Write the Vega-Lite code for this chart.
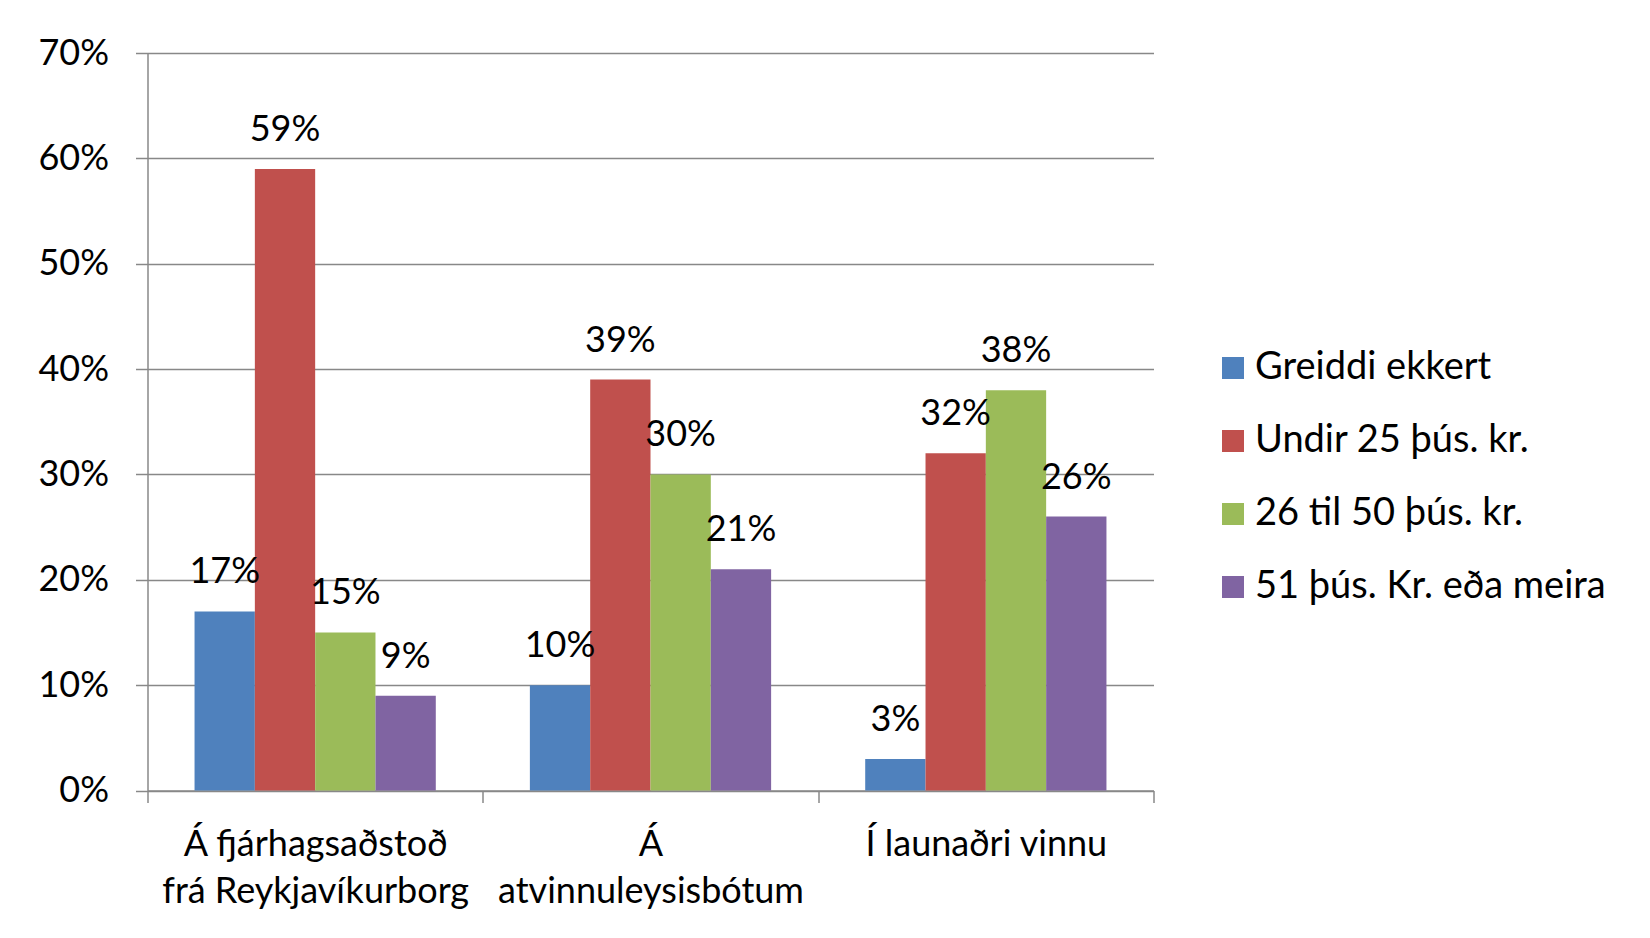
{
  "$schema": "https://vega.github.io/schema/vega-lite/v6.json",
  "autosize": "none",
  "width": 1006,
  "height": 737.5,
  "padding": {"left": 147.5, "top": 53, "right": 496.5, "bottom": 147.5},
  "background": "white",
  "config": {
    "font": "Lato",
    "view": {"stroke": null}
  },
  "data": {
    "values": [
      {"hopur": "Á fjárhagsaðstoð frá Reykjavíkurborg", "flokkur": "Greiddi ekkert", "hlutfall": 0.17},
      {"hopur": "Á fjárhagsaðstoð frá Reykjavíkurborg", "flokkur": "Undir 25 þús. kr.", "hlutfall": 0.59},
      {"hopur": "Á fjárhagsaðstoð frá Reykjavíkurborg", "flokkur": "26 til 50 þús. kr.", "hlutfall": 0.15},
      {"hopur": "Á fjárhagsaðstoð frá Reykjavíkurborg", "flokkur": "51 þús. Kr. eða meira", "hlutfall": 0.09},
      {"hopur": "Á atvinnuleysisbótum", "flokkur": "Greiddi ekkert", "hlutfall": 0.10},
      {"hopur": "Á atvinnuleysisbótum", "flokkur": "Undir 25 þús. kr.", "hlutfall": 0.39},
      {"hopur": "Á atvinnuleysisbótum", "flokkur": "26 til 50 þús. kr.", "hlutfall": 0.30},
      {"hopur": "Á atvinnuleysisbótum", "flokkur": "51 þús. Kr. eða meira", "hlutfall": 0.21},
      {"hopur": "Í launaðri vinnu", "flokkur": "Greiddi ekkert", "hlutfall": 0.03},
      {"hopur": "Í launaðri vinnu", "flokkur": "Undir 25 þús. kr.", "hlutfall": 0.32},
      {"hopur": "Í launaðri vinnu", "flokkur": "26 til 50 þús. kr.", "hlutfall": 0.38},
      {"hopur": "Í launaðri vinnu", "flokkur": "51 þús. Kr. eða meira", "hlutfall": 0.26}
    ]
  },
  "encoding": {
    "x": {
      "field": "hopur",
      "type": "nominal",
      "sort": null,
      "scale": {"paddingInner": 0, "paddingOuter": 0},
      "axis": {
        "title": null,
        "labelAngle": 0,
        "labelFontSize": 36,
        "labelColor": "#000000",
        "labelPadding": 25,
        "labelLineHeight": 47,
        "labelOverlap": false,
        "labelBound": false,
        "labelLimit": 0,
        "labelExpr": "datum.value == 'Á fjárhagsaðstoð frá Reykjavíkurborg' ? ['Á fjárhagsaðstoð', 'frá Reykjavíkurborg'] : datum.value == 'Á atvinnuleysisbótum' ? ['Á', 'atvinnuleysisbótum'] : datum.value",
        "tickBand": "extent",
        "tickSize": 12,
        "tickColor": "#888888",
        "tickWidth": 1.5,
        "domainColor": "#888888",
        "domainWidth": 1.5,
        "grid": false
      }
    },
    "xOffset": {
      "field": "flokkur",
      "type": "nominal",
      "sort": ["Greiddi ekkert", "Undir 25 þús. kr.", "26 til 50 þús. kr.", "51 þús. Kr. eða meira"],
      "scale": {"paddingInner": 0, "paddingOuter": 0.78}
    },
    "y": {
      "field": "hlutfall",
      "type": "quantitative",
      "scale": {"domain": [0, 0.7], "nice": false},
      "axis": {
        "title": null,
        "values": [0, 0.1, 0.2, 0.3, 0.4, 0.5, 0.6, 0.7],
        "format": ".0%",
        "labelFontSize": 36,
        "labelColor": "#000000",
        "labelPadding": 27,
        "tickSize": 12,
        "tickColor": "#888888",
        "tickWidth": 1.5,
        "domainColor": "#888888",
        "domainWidth": 1.5,
        "gridColor": "#888888",
        "gridWidth": 1.5,
        "gridOpacity": 1
      }
    }
  },
  "layer": [
    {
      "mark": {"type": "bar"},
      "encoding": {
        "color": {
          "field": "flokkur",
          "type": "nominal",
          "sort": ["Greiddi ekkert", "Undir 25 þús. kr.", "26 til 50 þús. kr.", "51 þús. Kr. eða meira"],
          "scale": {
            "domain": ["Greiddi ekkert", "Undir 25 þús. kr.", "26 til 50 þús. kr.", "51 þús. Kr. eða meira"],
            "range": ["#4F81BD", "#C0504D", "#9BBB59", "#8064A2"]
          },
          "legend": {
            "title": null,
            "orient": "none",
            "legendX": 1066.5,
            "legendY": 296,
            "padding": 0,
            "symbolType": "square",
            "symbolSize": 484,
            "symbolStrokeWidth": 0,
            "symbolOpacity": 1,
            "labelFontSize": 38,
            "labelColor": "#000000",
            "labelOffset": 3,
            "rowPadding": 35,
            "labelLimit": 450
          }
        }
      }
    },
    {
      "mark": {"type": "text", "fontSize": 36, "color": "#000000", "baseline": "alphabetic", "dy": -28},
      "encoding": {
        "text": {"field": "hlutfall", "type": "quantitative", "format": ".0%"}
      }
    }
  ]
}
